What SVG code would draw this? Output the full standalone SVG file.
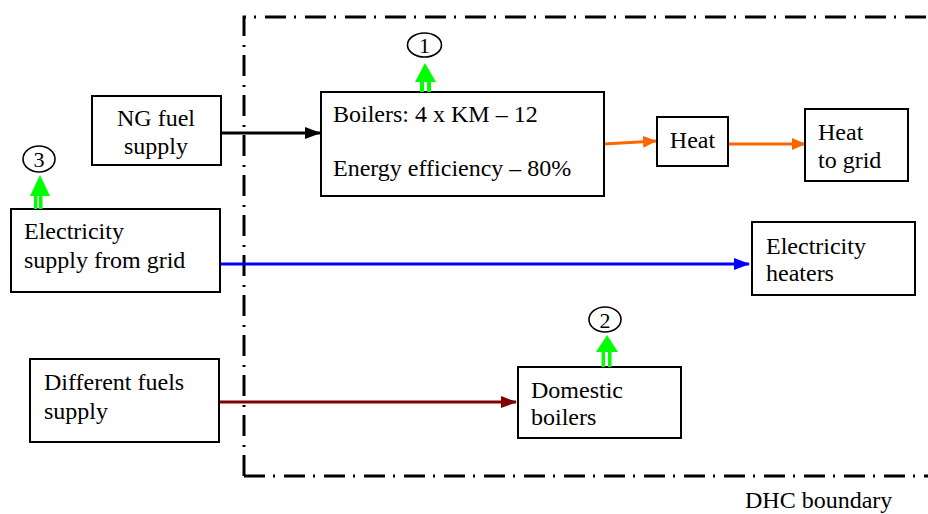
<svg xmlns="http://www.w3.org/2000/svg" width="928" height="514" viewBox="0 0 928 514" font-family="'Liberation Serif', 'Times New Roman', Tinos, 'DejaVu Serif', serif" font-size="24">
<style>
text{fill:#000}
.box{fill:#fff;stroke:#000;stroke-width:2}
.num{text-anchor:middle}
.ell{fill:none;stroke:#000;stroke-width:1.6}
.grn{fill:#00ff00;stroke:none}
.bnd{fill:none;stroke:#000;stroke-width:3;stroke-dasharray:21 8 2 9}
.cn{fill:none;stroke-width:3}
</style>
<defs>
<marker id="ak" markerWidth="16" markerHeight="12" refX="15" refY="6" orient="auto" markerUnits="userSpaceOnUse"><path d="M0,0 L16,6 L0,12 Z" fill="#000"/></marker>
<marker id="ao" markerWidth="14" markerHeight="12" refX="13" refY="6" orient="auto" markerUnits="userSpaceOnUse"><path d="M0,0 L14,6 L0,12 Z" fill="#ff6600"/></marker>
<marker id="ab" markerWidth="16" markerHeight="12" refX="15" refY="6" orient="auto" markerUnits="userSpaceOnUse"><path d="M0,0 L16,6 L0,12 Z" fill="#0000ff"/></marker>
<marker id="ar" markerWidth="16" markerHeight="12" refX="15" refY="6" orient="auto" markerUnits="userSpaceOnUse"><path d="M0,0 L16,6 L0,12 Z" fill="#800000"/></marker>
</defs>

<g id="boundary">
<path class="bnd" d="M244,476 L244,17 L928,17"/>
<path class="bnd" d="M244,476 L928,476"/>
<text x="745" y="508">DHC boundary</text>
</g>

<g id="connectors">
<line class="cn" x1="221" y1="133" x2="320" y2="133" stroke="#000" marker-end="url(#ak)"/>
<line class="cn" x1="604" y1="144" x2="656" y2="141" stroke="#ff6600" marker-end="url(#ao)"/>
<line class="cn" x1="729" y1="144" x2="805" y2="144" stroke="#ff6600" marker-end="url(#ao)"/>
<line class="cn" x1="221" y1="264" x2="749" y2="264" stroke="#0000ff" marker-end="url(#ab)"/>
<line class="cn" x1="219" y1="402" x2="516" y2="402" stroke="#800000" marker-end="url(#ar)"/>
</g>

<g id="ng">
<rect class="box" x="92" y="96" width="129" height="69"/>
<text x="156" y="126" text-anchor="middle">NG fuel</text>
<text x="156" y="154" text-anchor="middle">supply</text>
</g>

<g id="boilers">
<rect class="box" x="321" y="92" width="283" height="104"/>
<text x="333" y="122">Boilers: 4 x KM – 12</text>
<text x="333" y="176">Energy efficiency – 80%</text>
</g>

<g id="heat">
<rect class="box" x="657" y="117" width="71" height="49"/>
<text x="692.5" y="148" text-anchor="middle">Heat</text>
</g>

<g id="heatgrid">
<rect class="box" x="805" y="109" width="103" height="72"/>
<text x="818" y="140">Heat</text>
<text x="818" y="168">to grid</text>
</g>

<g id="elecsupply">
<rect class="box" x="11" y="209" width="209" height="83"/>
<text x="24" y="239">Electricity</text>
<text x="24" y="268">supply from grid</text>
</g>

<g id="elecheaters">
<rect class="box" x="752" y="222" width="163" height="73"/>
<text x="766" y="254">Electricity</text>
<text x="766" y="281">heaters</text>
</g>

<g id="fuels">
<rect class="box" x="30" y="359" width="189" height="83"/>
<text x="44" y="390">Different fuels</text>
<text x="44" y="419">supply</text>
</g>

<g id="domestic">
<rect class="box" x="518" y="367" width="163" height="71"/>
<text x="531" y="398">Domestic</text>
<text x="531" y="425">boilers</text>
</g>

<g id="marker1">
<ellipse class="ell" cx="424.5" cy="45" rx="17" ry="12"/>
<text class="num" x="424.5" y="53" font-size="22">1</text>
<path class="grn" d="M425,63 L436,82 L415,82 Z"/>
<rect class="grn" x="420" y="81" width="4" height="11"/>
<rect class="grn" x="427" y="81" width="4" height="11"/>
</g>

<g id="marker3">
<ellipse class="ell" cx="39" cy="159" rx="16" ry="13"/>
<text class="num" x="39" y="167" font-size="22">3</text>
<path class="grn" d="M40,175 L50,196 L30,196 Z"/>
<rect class="grn" x="34" y="195" width="3.5" height="14"/>
<rect class="grn" x="39" y="195" width="3.5" height="14"/>
</g>

<g id="marker2">
<ellipse class="ell" cx="605" cy="319.5" rx="16" ry="12.5"/>
<text class="num" x="605" y="328" font-size="22">2</text>
<path class="grn" d="M607,335 L618,352 L596,352 Z"/>
<rect class="grn" x="601.5" y="351" width="3.5" height="16"/>
<rect class="grn" x="608" y="351" width="3.5" height="16"/>
</g>
</svg>
